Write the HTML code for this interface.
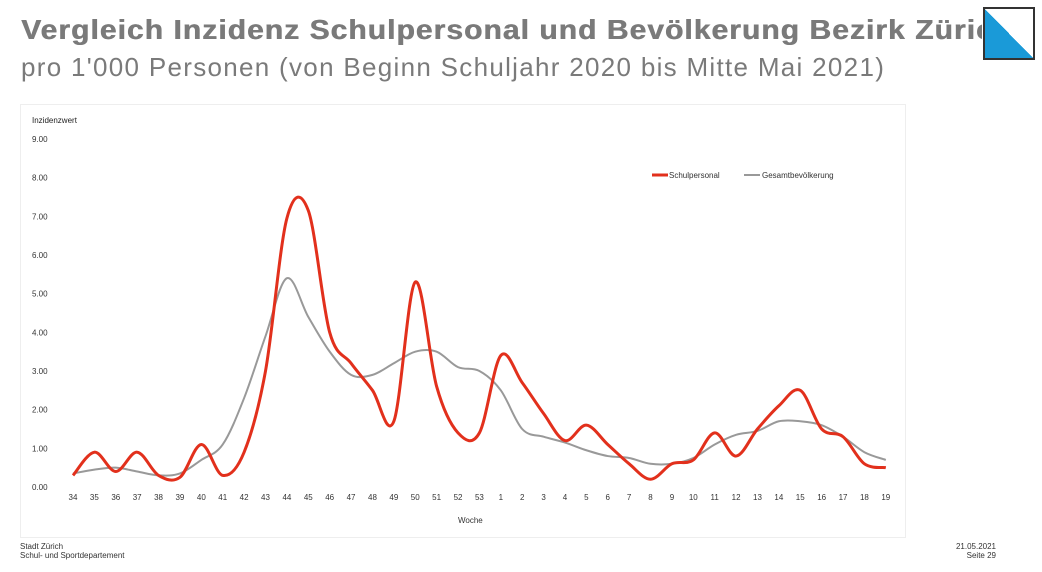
<!DOCTYPE html>
<html><head><meta charset="utf-8"><style>
body{margin:0;width:1042px;height:572px;background:#fff;position:relative;overflow:hidden;font-family:"Liberation Sans",sans-serif}
.t1{position:absolute;left:21px;top:14px;font-size:28px;font-weight:bold;color:#7a7a7a;white-space:nowrap;letter-spacing:1px;transform:scaleX(1.07);transform-origin:left top;text-shadow:0.6px 0 0 #7a7a7a}
.t2{position:absolute;left:21px;top:52px;font-size:26px;color:#7a7a7a;white-space:nowrap;letter-spacing:1.3px}
.logo{position:absolute;left:983px;top:7px;width:48px;height:49px;border:2px solid #333;background:linear-gradient(to top right,#1a9ad8 50%,#fff 50%);z-index:2}
.cover{position:absolute;left:982px;top:0;width:60px;height:60px;background:#fff;z-index:1}
.panel{position:absolute;left:20px;top:104px;width:884px;height:432px;border:1px solid #eee}
.f{position:absolute;font-size:8px;color:#333;line-height:9px}
</style></head><body>
<div class="t1">Vergleich Inzidenz Schulpersonal und Bevölkerung Bezirk Zürich</div>
<div class="t2">pro 1'000 Personen (von Beginn Schuljahr 2020 bis Mitte Mai 2021)</div>
<div class="cover"></div>
<div class="logo"></div>
<div class="panel"></div>
<svg id="c" width="1042" height="572" style="position:absolute;left:0;top:0" font-family="Liberation Sans, sans-serif"></svg>
<div class="f" style="left:20px;top:542px">Stadt Zürich<br>Schul- und Sportdepartement</div>
<div class="f" style="right:46px;top:542px;text-align:right">21.05.2021<br>Seite 29</div>
<script>
var s=[0.3,0.9,0.4,0.9,0.3,0.25,1.1,0.3,0.9,3.0,6.95,7.15,4.0,3.2,2.5,1.7,5.3,2.6,1.4,1.4,3.4,2.7,1.9,1.2,1.6,1.1,0.6,0.2,0.6,0.7,1.4,0.8,1.5,2.1,2.5,1.5,1.3,0.6,0.5];
var g=[0.35,0.45,0.5,0.4,0.3,0.35,0.7,1.1,2.3,3.9,5.4,4.4,3.5,2.9,2.9,3.2,3.5,3.5,3.1,3.0,2.5,1.5,1.3,1.15,0.95,0.8,0.75,0.6,0.6,0.75,1.1,1.35,1.45,1.7,1.7,1.6,1.3,0.9,0.7];
var labs=[];for(var i=34;i<=53;i++)labs.push(i);for(i=1;i<=19;i++)labs.push(i);
function X(i){return 73+i*21.39}function Y(v){return 487-v*38.67}
function path(d){var p=d.map(function(v,i){return[X(i),Y(v)]});var o='M'+p[0][0]+','+p[0][1];
for(var i=0;i<p.length-1;i++){var a=p[i-1]||p[i],b=p[i],c=p[i+1],e=p[i+2]||c;
o+=' C'+(b[0]+(c[0]-a[0])/6)+','+(b[1]+(c[1]-a[1])/6)+' '+(c[0]-(e[0]-b[0])/6)+','+(c[1]-(e[1]-b[1])/6)+' '+c[0]+','+c[1];}return o}
var h='<text x="32" y="123" font-size="8" fill="#222">Inzidenzwert</text>';
for(i=0;i<=9;i++)h+='<text x="32" y="'+(Y(i)+3)+'" font-size="8" fill="#333">'+i+'.00</text>';
labs.forEach(function(l,i){h+='<text x="'+X(i)+'" y="500" font-size="8" fill="#333" text-anchor="middle">'+l+'</text>'});
h+='<text x="458" y="523" font-size="8" fill="#333">Woche</text>';
h+='<path d="'+path(g)+'" fill="none" stroke="#999" stroke-width="2"/>';
h+='<path d="'+path(s)+'" fill="none" stroke="#e2301c" stroke-width="3"/>';
h+='<line x1="652" y1="175" x2="668" y2="175" stroke="#e2301c" stroke-width="3"/><text x="669" y="178" font-size="8" fill="#333">Schulpersonal</text>';
h+='<line x1="744" y1="175" x2="760" y2="175" stroke="#999" stroke-width="2"/><text x="762" y="178" font-size="8" fill="#333">Gesamtbevölkerung</text>';
document.getElementById('c').innerHTML=h;
</script>
</body></html>
